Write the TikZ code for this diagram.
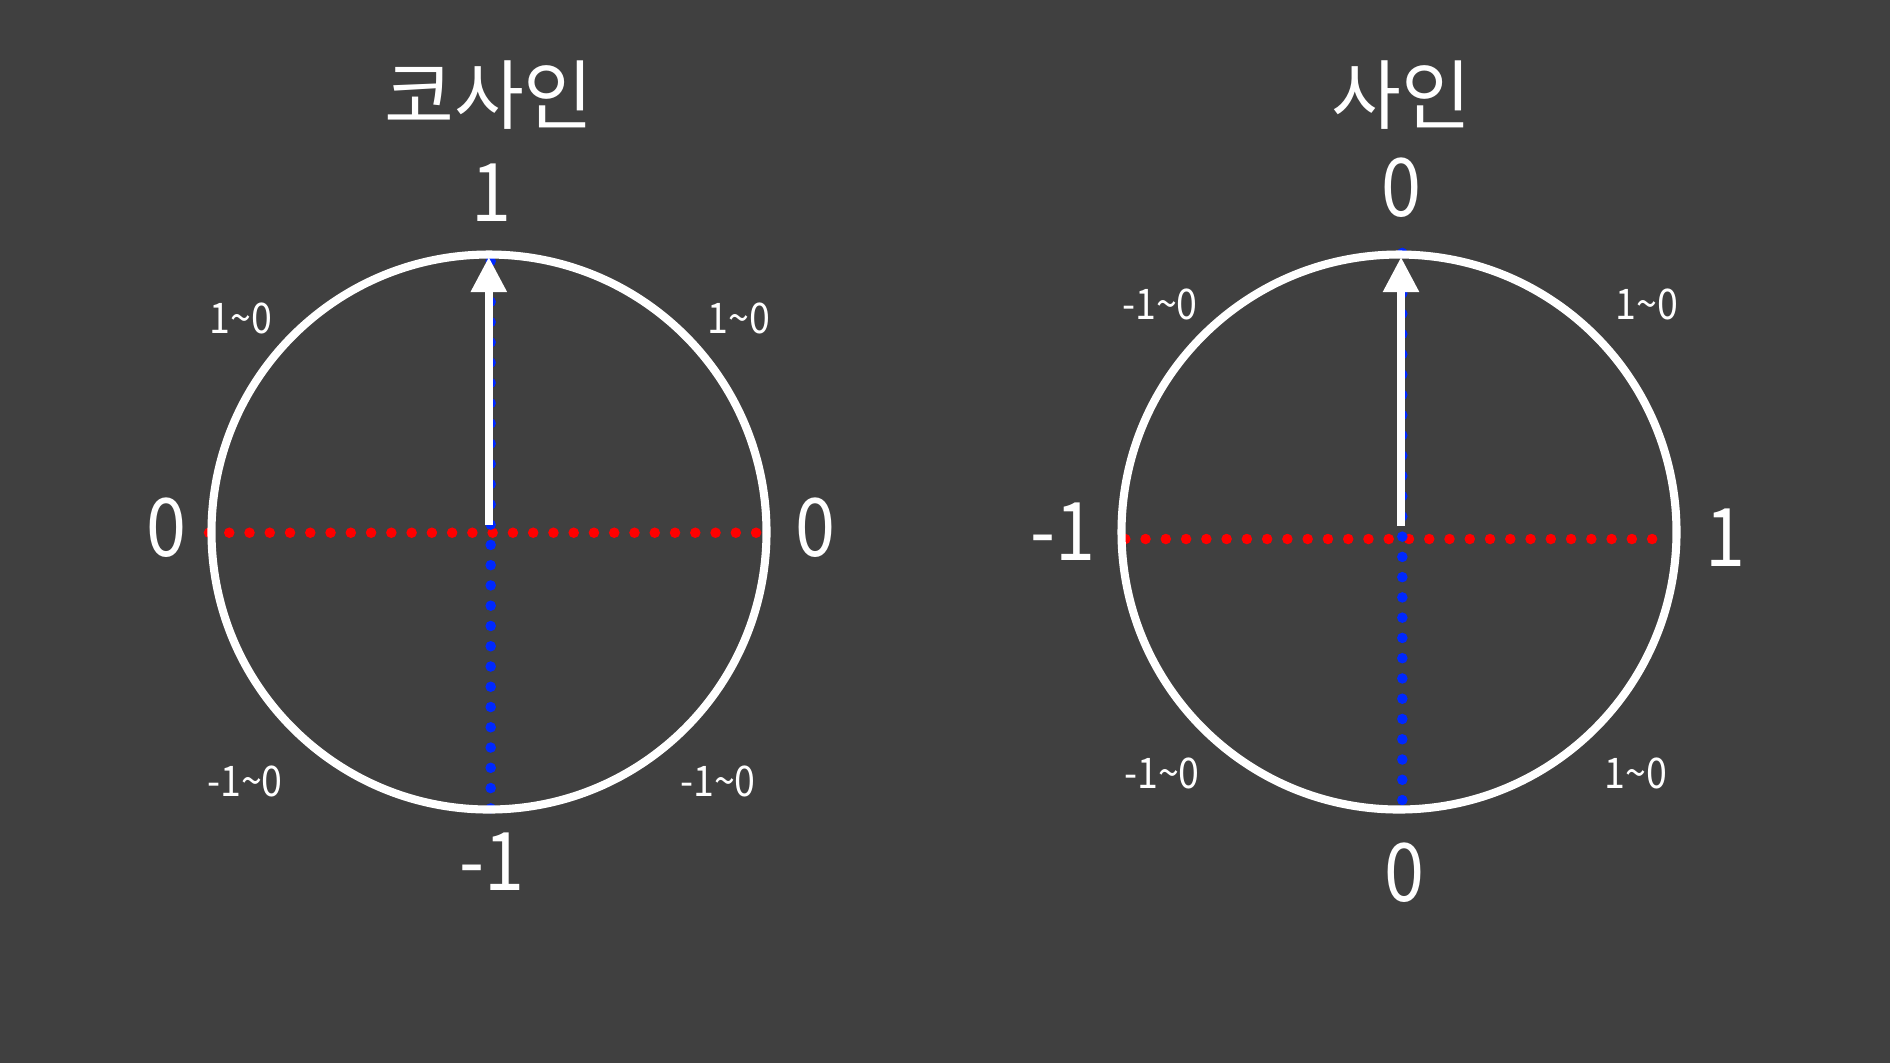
\documentclass[tikz,border=0pt]{standalone}
\usepackage{fontspec}
\setmainfont{Noto Sans CJK KR}
\usetikzlibrary{arrows.meta}
\definecolor{bg}{RGB}{64,64,64}
\definecolor{dotred}{RGB}{255,0,0}
\definecolor{dotblue}{RGB}{0,40,255}
\newcommand{\narrowtxt}[1]{\scalebox{0.89}[1]{#1}}
\begin{document}
\begin{tikzpicture}[x=0.1mm,y=-0.1mm,
  lbl/.style={text=white, inner sep=0pt, font=\fontsize{23}{27}\selectfont},
  ttl/.style={text=white, inner sep=0pt, font=\fontsize{21.6}{26}\selectfont},
  small/.style={text=white, inner sep=0pt, font=\fontsize{12}{14}\selectfont},
  ring/.style={draw=white, line width=2.3pt},
  reddots/.style={draw=dotred, line width=3pt, line cap=round, dash pattern=on 0pt off 5.765pt},
  bluedots/.style={draw=dotblue, line width=3pt, line cap=round, dash pattern=on 0pt off 5.765pt},
  vec/.style={draw=white, line width=2.2pt, -{Triangle[width=9.8pt,length=10pt]}}
]
\fill[bg] (0,0) rectangle (1890,1063);
\useasboundingbox (0,0) rectangle (1890,1063);

% ---- left: cosine ----
\coordinate (Lc) at (489,532);
\coordinate (Lr1) at (209,532.7);
\coordinate (Lr2) at (757.1,532.7);
\coordinate (Lb1) at (490.7,808.3);
\coordinate (Lb2) at (490.7,260.2);
\coordinate (La1) at (488.8,525);
\coordinate (La2) at (488.8,257);
\draw[reddots] (Lr1) -- (Lr2);
\draw[bluedots] (Lb1) -- (Lb2);
\draw[ring] (Lc) circle[radius=27.75mm];
\draw[vec] (La1) -- (La2);

\node[ttl] (Ltitle) at (489,95) {코사인};
\node[lbl] (Ltop) at (491,193) {\narrowtxt{1}};
\node[lbl] (Lleft) at (166,528) {\narrowtxt{0}};
\node[lbl] (Lright) at (815,528) {\narrowtxt{0}};
\node[lbl] (Lbot) at (492,862) {\narrowtxt{-1}};
\node[small] (Lul) at (241,318) {\narrowtxt{1\char`~0}};
\node[small] (Lur) at (739,318) {\narrowtxt{1\char`~0}};
\node[small] (Lll) at (245,781) {\narrowtxt{-1\char`~0}};
\node[small] (Llr) at (718,781) {\narrowtxt{-1\char`~0}};

% ---- right: sine ----
\coordinate (Rc) at (1399,532);
\coordinate (Rr1) at (1125.3,539);
\coordinate (Rr2) at (1670.7,539);
\coordinate (Rb1) at (1402.3,800);
\coordinate (Rb2) at (1402.3,252);
\coordinate (Ra1) at (1401,525.7);
\coordinate (Ra2) at (1401,257);
\draw[reddots] (Rr1) -- (Rr2);
\draw[bluedots] (Rb1) -- (Rb2);
\draw[ring] (Rc) circle[radius=27.75mm];
\draw[vec] (Ra1) -- (Ra2);

\node[ttl] (Rtitle) at (1401,95) {사인};
\node[lbl] (Rtop) at (1401,188) {\narrowtxt{0}};
\node[lbl] (Rleft) at (1063,532) {\narrowtxt{-1}};
\node[lbl] (Rright) at (1725,538) {\narrowtxt{1}};
\node[lbl] (Rbot) at (1404,873) {\narrowtxt{0}};
\node[small] (Rul) at (1160,304) {\narrowtxt{-1\char`~0}};
\node[small] (Rur) at (1647,304) {\narrowtxt{1\char`~0}};
\node[small] (Rll) at (1162,773) {\narrowtxt{-1\char`~0}};
\node[small] (Rlr) at (1636,773) {\narrowtxt{1\char`~0}};
\end{tikzpicture}
\end{document}
